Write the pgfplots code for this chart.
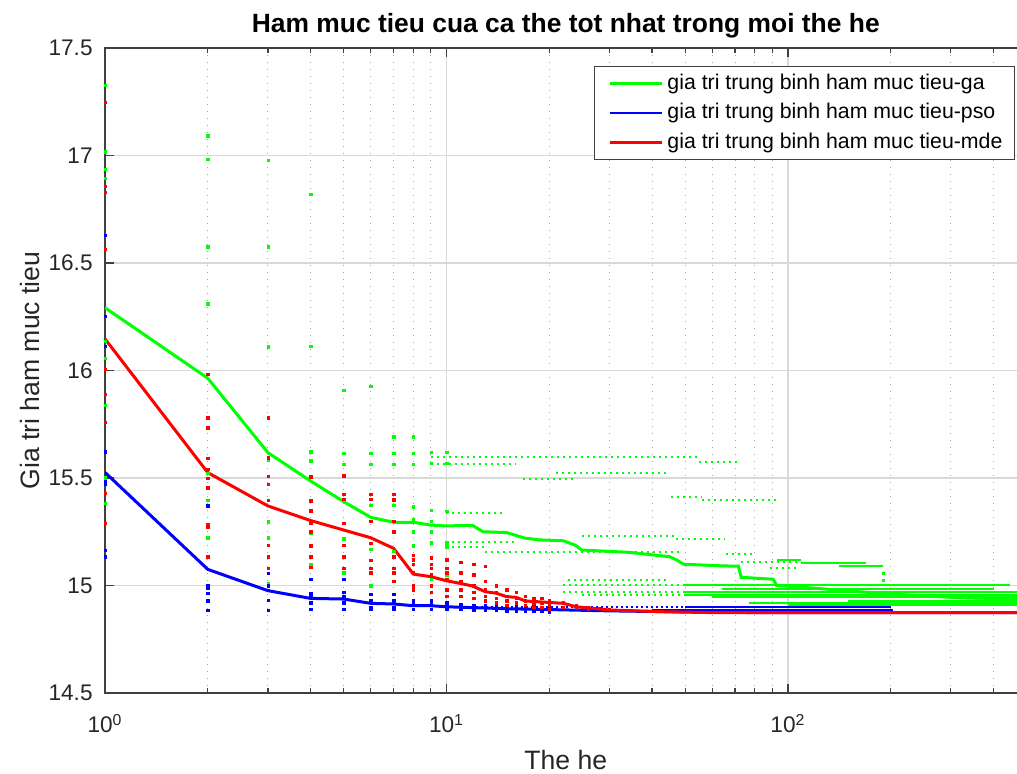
\documentclass[border=0pt]{standalone}
\usepackage{pgfplots}
\pgfplotsset{compat=1.18}
\usepackage{fontspec}
\setmainfont{Liberation Sans}
\begin{document}
\begin{tikzpicture}
\pgfplotsset{
 dotG/.style={color=green, only marks, mark=square*, mark size=0.6pt, mark options={solid, draw=green, fill=green, line width=0.1pt}, forget plot},
 dotB/.style={color=blue, only marks, mark=square*, mark size=0.6pt, mark options={solid, draw=blue, fill=blue, line width=0.1pt}, forget plot},
 dotR/.style={color=red, only marks, mark=square*, mark size=0.6pt, mark options={solid, draw=red, fill=red, line width=0.1pt}, forget plot},
 rowG/.style={green, line width=1pt, dash pattern=on 1pt off 2pt, forget plot},
 rowGs/.style={green, line width=1pt, forget plot},
 rowB/.style={blue, line width=1pt, dash pattern=on 1pt off 1.5pt, forget plot},
 rowBs/.style={blue, line width=0.9pt, forget plot},
}
\begin{axis}[
 scale only axis, width=460.8pt, height=322.5pt,
 at={(0,0)}, anchor=south west,
 xmode=log, xmin=1, xmax=500, ymin=14.5, ymax=17.5,
 xtick={1,10,100},
 xticklabels={10\textsuperscript{0},10\textsuperscript{1},10\textsuperscript{2}},
 minor xtick={2,3,4,5,6,7,8,9,20,30,40,50,60,70,80,90,200,300,400},
 ytick={14.5,15,15.5,16,16.5,17,17.5},
 yticklabels={14.5,15,15.5,16,16.5,17,17.5},
 ymajorgrids, xmajorgrids, xminorgrids,
 major grid style={black!15, line width=0.7pt},
 minor grid style={black!35, line width=0.5pt, dash pattern=on 0.5pt off 3pt},
 tick align=inside,
 major tick length=4.5pt, minor tick length=2.5pt,
 every tick/.style={black!75, line width=0.6pt},
 axis line style={black!75, line width=0.6pt},
 tick label style={font=\fontsize{11.3}{13}\selectfont, text=black!85},
 xticklabel style={anchor=base, yshift=-20pt},
 yticklabel style={anchor=east, inner sep=0pt, xshift=-6pt},
 title={Ham muc tieu cua ca the tot nhat trong moi the he},
 title style={at={([yshift=1.75pt]axis description cs:0.5,1)}, anchor=base, font=\fontsize{13.2}{15}\selectfont\bfseries},
 xlabel={The he}, ylabel={Gia tri ham muc tieu},
 every axis x label/.style={at={([yshift=-38.25pt]axis description cs:0.5,0)}, anchor=base, font=\fontsize{13.3}{15}\selectfont, text=black!85},
 every axis y label/.style={at={([xshift=-32.75pt]axis description cs:0,0.5)}, rotate=90, anchor=base, font=\fontsize{13.3}{15}\selectfont, text=black!85},
 legend style={at={(0.9874,0.972)}, anchor=north east, draw=black!75, line width=0.5pt, fill=white,
   font=\fontsize{10.65}{12}\selectfont, inner xsep=4.8pt, inner ysep=2.1pt, row sep=1.95pt, column sep=1.1pt,
   nodes={inner sep=1.2pt, text height=8pt, text depth=2.4pt}, cells={anchor=west}},
 legend image code/.code={\path (0pt,0pt); \draw[#1, line width=1.1pt] (2pt,0pt) -- (28pt,0pt);},
]
% ---------------- green scatter ----------------
\addplot[dotG] coordinates {
(1,17.328)(1,17.018)(1,16.937)(1,16.894)(1,16.137)(1,16.057)(1,15.84)(1,15.501)(1,15.382)
(2,17.092)(2,16.984)(2,16.576)(2,16.312)(2,15.522)(2,15.398)(2,15.222)
(3,16.979)(3,16.576)(3,16.111)(3,15.584)(3,15.297)(3,15.222)(3,15.01)
(4,16.82)(4,16.114)(4,15.622)(4,15.58)(4,15.243)(4,15.099)
(5,15.909)(5,15.615)(5,15.565)(5,15.219)(5,15.06)
(6,15.928)(6,15.615)(6,15.565)(6,15.374)(6,15.17)(6,15.0)
(7,15.692)(7,15.615)(7,15.565)(7,15.374)(7,15.16)(7,15.02)
(8,15.692)(8,15.615)(8,15.565)(8,15.367)(8,15.308)(8,15.25)(8,15.185)(8,15.0)
(9,15.62)(9,15.57)(9,15.35)(9,15.3)(9,15.25)(9,15.2)(9,15.03)
(10,15.62)(10,15.57)(10,15.345)(10,15.2)(10,15.18)(10,15.05)
(190,15.057)(190,15.026)
};
\addplot[rowG] coordinates {(9,15.598)(55,15.598)};
\addplot[rowG] coordinates {(55,15.576)(72,15.576)};
\addplot[rowG] coordinates {(9,15.565)(16,15.565)};
\addplot[rowG] coordinates {(21,15.522)(45,15.522)};
\addplot[rowG] coordinates {(16.8,15.495)(24,15.495)};
\addplot[rowG] coordinates {(25,15.23)(47,15.23)};
\addplot[rowG] coordinates {(47,15.215)(65,15.215)};
\addplot[rowG] coordinates {(10,15.335)(14.5,15.335)};
\addplot[rowG] coordinates {(10,15.204)(16,15.204)};
\addplot[rowG] coordinates {(10,15.18)(13,15.18)};
\addplot[rowG] coordinates {(45.5,15.41)(56,15.41)};
\addplot[rowG] coordinates {(56,15.398)(93,15.398)};
\addplot[rowG] coordinates {(13,15.157)(48,15.157)};
\addplot[rowG] coordinates {(66,15.147)(79,15.147)};
\addplot[rowG] coordinates {(73,15.11)(110,15.11)};
\addplot[rowG] coordinates {(88.6,15.083)(106,15.083)};
\addplot[rowG] coordinates {(22.7,15.025)(44,15.025)};
\addplot[rowGs] coordinates {(93,15.12)(109,15.12)};
\addplot[rowGs] coordinates {(109,15.106)(169,15.106)};
\addplot[rowGs] coordinates {(141,15.09)(190,15.09)};
\addplot[rowG] coordinates {(22,15.0)(50,15.0)};
\addplot[rowGs] coordinates {(50,15.0)(446,15.0)};
\addplot[rowGs] coordinates {(64,14.984)(400,14.984)};
\addplot[rowG] coordinates {(22,14.971)(50,14.971)};
\addplot[rowGs] coordinates {(50,14.971)(500,14.971)};
\addplot[rowG] coordinates {(25,14.958)(50,14.958)};
\addplot[rowGs] coordinates {(50,14.958)(500,14.958)};
\addplot[rowGs] coordinates {(60,14.945)(500,14.945)};
\addplot[rowGs] coordinates {(150,14.93)(500,14.93)};
\addplot[rowGs] coordinates {(77,14.92)(500,14.92)};
\addplot[rowGs] coordinates {(100,14.91)(500,14.91)};
% ---------------- blue scatter ----------------
\addplot[dotB] coordinates {
(1,16.63)(1,16.253)(1,16.114)(1,15.622)(1,15.486)(1,15.472)(1,15.289)(1,15.165)(1,15.134)
(2,15.371)(2,15.0)(2,14.987)(2,14.964)(2,14.929)(2,14.886)
(3,15.057)(3,15.0)(3,14.979)(3,14.933)(3,14.886)
(4,15.029)(4,14.964)(4,14.95)(4,14.92)(4,14.889)
(5,15.029)(5,14.97)(5,14.95)(5,14.92)(5,14.89)
(6,14.96)(6,14.93)(6,14.9)(6,14.89)
(7,14.96)(7,14.93)(7,14.9)(7,14.89)
(8,14.93)(8,14.92)(8,14.89)
(9,14.93)(9,14.92)(9,14.89)
(10,14.92)(10,14.91)(10,14.89)
(11,14.912)(11,14.89)(12,14.91)(12,14.888)(13,14.91)(13,14.886)(14,14.905)(14,14.885)
(15,14.905)(15,14.883)(16,14.903)(16,14.882)(17,14.902)(17,14.881)(18,14.902)(18,14.88)
(19,14.9)(19,14.88)(20,14.9)(20,14.879)(22,14.9)(24,14.9)
};
\addplot[rowB] coordinates {(10,14.899)(50,14.899)};
\addplot[rowBs] coordinates {(50,14.899)(201,14.899)};
\addplot[rowBs] coordinates {(40,14.887)(203,14.887)};
% ---------------- red scatter ----------------
\addplot[dotR] coordinates {
(1,17.247)(1,16.858)(1,16.829)(1,16.565)(1,16.007)(1,15.889)(1,15.759)(1,15.429)(1,15.289)
(2,15.984)(2,15.78)(2,15.734)(2,15.592)(2,15.54)(2,15.499)(2,15.455)(2,15.285)(2,15.271)(2,15.134)
(3,15.78)(3,15.594)(3,15.509)(3,15.471)(3,15.398)(3,15.188)(3,15.134)(3,15.08)
(4,15.506)(4,15.394)(4,15.348)(4,15.29)(4,15.25)(4,15.185)(4,15.134)(4,15.085)
(5,15.511)(5,15.424)(5,15.402)(5,15.289)(5,15.188)(5,15.134)(5,15.08)
(6,15.424)(6,15.402)(6,15.3)(6,15.196)(6,15.119)(6,15.08)(6,15.06)
(7,15.424)(7,15.4)(7,15.3)(7,15.25)(7,15.134)(7,15.08)(7,15.06)(7,15.02)
(8,15.14)(8,15.12)(8,15.1)(8,15.06)(8,15.0)(8,14.98)
(9,15.13)(9,15.1)(9,15.08)(9,15.05)(9,15.0)(9,14.97)
(10,15.12)(10,15.08)(10,15.06)(10,15.03)(10,14.98)(10,14.95)
(11,15.11)(11,15.06)(11,15.02)(11,14.98)(11,14.95)
(12,15.1)(12,15.05)(12,15.0)(12,14.97)(12,14.94)
(13,15.09)(13,15.02)(13,14.98)(13,14.95)(13,14.93)
(14,15.0)(14,14.97)(14,14.94)(14,14.92)
(15,14.98)(15,14.95)(15,14.93)(15,14.91)
(16,14.97)(16,14.94)(16,14.92)
(17,14.95)(17,14.93)(17,14.91)
(18,14.94)(18,14.92)(18,14.9)
(19,14.94)(19,14.92)(19,14.9)
(20,14.93)(20,14.91)(20,14.89)
(22,14.92)(22,14.9)(24,14.91)(24,14.895)(26,14.9)(26,14.89)(28,14.895)(30,14.89)
};
% ---------------- mean lines ----------------
\addplot[green, line width=1.5pt] coordinates {
(1,16.292)(2,15.964)(3,15.618)(4,15.486)(5,15.39)(6,15.317)(7,15.294)(8,15.294)(9,15.281)(10,15.277)
(11.9,15.28)(12.8,15.25)(15,15.246)(17,15.22)(18.8,15.212)(22,15.208)(23.8,15.188)(24.9,15.165)
(34.4,15.154)(40.3,15.142)(45,15.134)(47.2,15.119)(49.4,15.099)(64.7,15.091)(71.6,15.09)(73,15.038)
(90.6,15.029)(92.6,15.0)(106,14.994)(150,14.975)(200,14.96)(300,14.945)(500,14.935)
};
\addlegendentry{gia tri trung binh ham muc tieu-ga}
\addplot[blue, line width=1.5pt] coordinates {
(1,15.526)(2,15.075)(3,14.976)(4,14.94)(5,14.937)(6,14.917)(7,14.914)(8,14.906)(9,14.906)(10,14.901)
(15,14.892)(20,14.888)(30,14.882)(50,14.877)(80,14.874)(500,14.874)
};
\addlegendentry{gia tri trung binh ham muc tieu-pso}
\addplot[red, line width=1.5pt] coordinates {
(1,16.147)(2,15.525)(3,15.37)(4,15.302)(5,15.258)(6,15.222)(7,15.173)(8,15.053)(9,15.041)(10,15.022)
(10.95,15.01)(11.9,14.998)(13,14.971)(14,14.964)(15,14.948)(16,14.945)(17,14.928)(22,14.917)(24,14.901)
(30,14.886)(43,14.878)(60,14.874)(500,14.874)
};
\addlegendentry{gia tri trung binh ham muc tieu-mde}
\end{axis}
\pgfresetboundingbox
\path[use as bounding box] (-52.5pt,-40.5pt) rectangle (456pt,346.5pt);
\end{tikzpicture}
\end{document}
